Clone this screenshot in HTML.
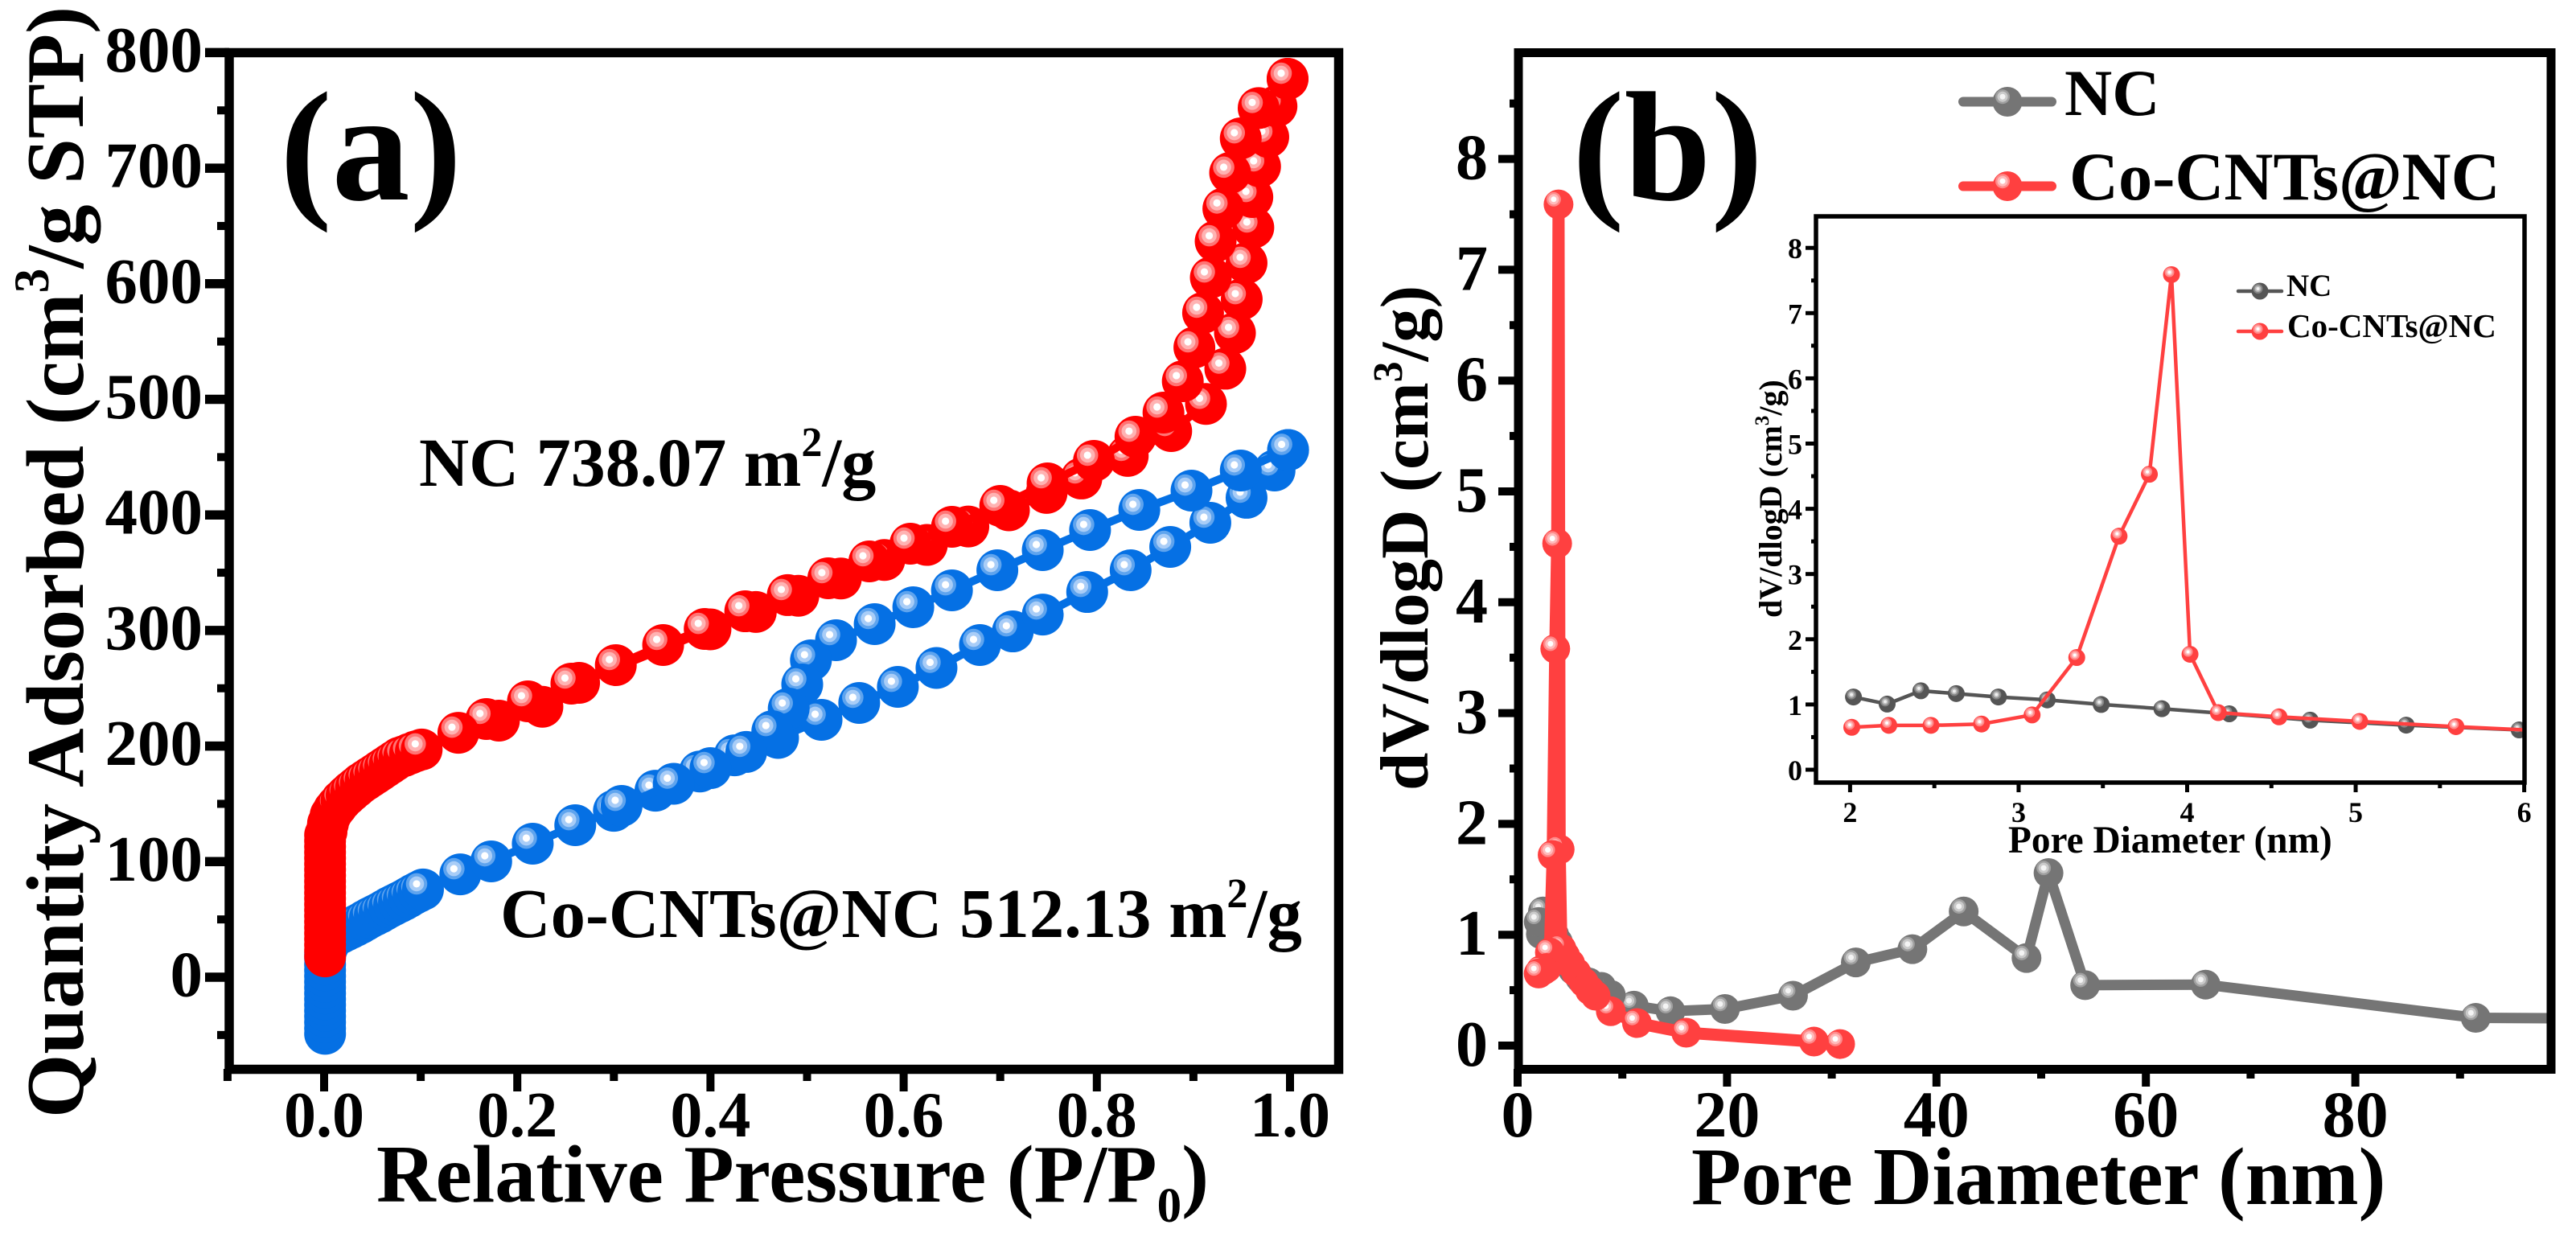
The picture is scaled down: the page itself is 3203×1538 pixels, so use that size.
<!DOCTYPE html>
<html lang="en">
<head>
<meta charset="utf-8">
<title>Isotherm and pore size distribution</title>
<style>
html,body{margin:0;padding:0;background:#fff;}
svg{display:block;}
text{font-family:"Liberation Serif","Times New Roman",serif;font-weight:bold;fill:#000;}
</style>
</head>
<body>
<svg id="fig" xmlns="http://www.w3.org/2000/svg" width="3203" height="1538" viewBox="0 0 3203 1538">
<rect width="3203" height="1538" fill="#fff"/>
<defs>
<clipPath id="clipB"><rect x="1887" y="66" width="1285" height="1263"/></clipPath>
<clipPath id="clipI"><rect x="2258" y="269" width="881" height="704"/></clipPath>
</defs>
<g id="marksA"></g>
<g id="marksB" clip-path="url(#clipB)"></g>
<g id="marksI" clip-path="url(#clipI)"></g>
<g id="axes"></g>

<text x="348" y="248" font-size="194">(a)</text>
<text x="1955" y="248" font-size="194">(b)</text>

<text x="521" y="604" font-size="86">NC 738.07 m<tspan font-size="52" dy="-37">2</tspan><tspan dy="37">/g</tspan></text>
<text x="622" y="1165" font-size="86.7">Co-CNTs@NC 512.13 m<tspan font-size="52" dy="-37">2</tspan><tspan dy="37">/g</tspan></text>

<text transform="translate(103,1390) rotate(-90)" font-size="102">Quantity Adsorbed (cm<tspan font-size="61" dy="-43">3</tspan><tspan dy="43">/g STP)</tspan></text>
<text x="468" y="1494" font-size="102">Relative Pressure (P/P<tspan font-size="61" dy="25">0</tspan><tspan dy="-25">)</tspan></text>

<text transform="translate(1775,983) rotate(-90)" font-size="85">dV/dlogD (cm<tspan font-size="52" dy="-32">3</tspan><tspan dy="32">/g)</tspan></text>
<text x="2103" y="1497" font-size="101.4">Pore Diameter (nm)</text>

<text transform="translate(2215,768) rotate(-90)" font-size="40">dV/dlogD (cm<tspan font-size="25" dy="-16">3</tspan><tspan dy="16">/g)</tspan></text>
<text x="2497" y="1060" font-size="47.3">Pore Diameter (nm)</text>

<g>
<g id="legendB"></g>
<text x="2567" y="143" font-size="82">NC</text>
<text x="2573" y="248" font-size="84.5">Co-CNTs@NC</text>
</g>
<g>
<g id="legendI"></g>
<text x="2843" y="368" font-size="39">NC</text>
<text x="2844" y="419" font-size="41">Co-CNTs@NC</text>
</g>
</svg>
<script>
// Panel (a): isotherm data
const nitrogenAdsRelP = [.001,.001,.001,.001,.001,.001,.001,.001,.001,.001,.001,.001,.001,.001,.001,.001,.001,.001,.001,.001,.001,.001,.0025,.004,.0067,.01,.0133,.018,.0233,.028,.033,.038,.043,.048,.053,.058,.063,.068,.073,.078,.083,.089,.095,.101,.181,.226,.264,.40,.447,.491,.535,.58,.624,.667,.709,.748,.784,.832,.877,.913,.933,.943,.95,.955,.962,.961,.969,.9775,.986,.9975];
const nitrogenAdsQty = [18,23,28,33,38,43,48,53,58,63,68,73,78,83,88,93,98,103,108,113,118,123,126,133,140,144.7,148.2,153,157.3,160.8,164.2,167.7,170.5,173.3,176,178.8,181.6,184.4,187.2,190,191.4,193.5,195.5,197,222,234,254.7,301,316,330,345,361,374,390,404,419,431.5,451,472.5,496,526.5,557.4,586.6,618,648.6,675,701.5,727,753.6,777.3];
const nitrogenDesRelP = [.9675,.949,.938,.931,.923,.918,.91,.901,.889,.869,.84,.797,.749,.70,.65,.607,.5645,.522,.48,.436,.394,.351,.302,.256,.211,.168,.139];
const nitrogenDesQty = [752,725.8,696,665,636.7,605.4,574.8,544.9,515.7,488.5,467.6,446.8,427.3,407.8,389.7,375.1,359.8,345.2,330.6,316.6,301.3,287.4,270,254,238.7,223.4,211.5];
const cobaltAdsRelP = [.001,.001,.001,.001,.001,.001,.001,.001,.001,.001,.001,.001,.001,.001,.001,.0025,.0045,.0075,.0125,.0175,.0225,.0275,.0325,.0375,.0425,.0475,.0525,.0575,.0625,.0675,.0725,.0775,.0825,.0875,.0925,.0975,.1024,.141,.173,.216,.26,.30,.343,.389,.425,.47,.515,.554,.594,.634,.679,.713,.744,.79,.835,.876,.9175,.955,.984,.998];
const cobaltAdsQty = [-49,-44,-39,-34,-29,-24,-19,-14,-9,-4,1,6,11,16,20,24,28,34.1,36.2,38.3,40.4,42.4,44.5,46.6,49.1,51.5,53.6,55.7,58.1,60.5,62.6,64.7,66.8,69.2,71.7,73.8,75.9,89,100.2,115.5,131.5,144,161.4,178,192,207,222.7,237.3,251.2,267.6,287.4,299.2,313.8,333.3,352.1,372.3,393.2,414.8,438.4,456.2];
const cobaltDesRelP = [.949,.898,.844,.793,.744,.697,.65,.61,.57,.53,.504,.495,.481,.464,.437,.4,.362,.308];
const cobaltDesQty = [438.4,421,404.3,386.9,369.5,352.1,334.7,320.1,305.5,291.6,274.2,253.3,232.4,212.9,194.9,180.9,167.4,148.2];

// Panel (b) and inset: pore size distribution data
const ncDiameter = [2.02,2.22,2.42,2.63,2.88,3.17,3.49,3.85,4.25,4.73,5.30,5.97,6.8,8.0,8.9,11.1,14.6,19.8,26.3,32.3,37.7,42.6,48.6,50.7,54.2,65.7,91.5,110];
const ncVolume = [1.115,1.006,1.21,1.167,1.115,1.07,1.0,.935,.857,.76,.683,.61,.57,.53,.457,.36,.31,.33,.45,.75,.87,1.21,.79,1.557,.545,.55,.25,.24];
const cocntDiameter = [2.01,2.23,2.48,2.78,3.08,3.345,3.596,3.776,3.907,4.017,4.185,4.545,5.024,5.595,6.33,6.9,7.45,8.9,11.4,16.1,28.3,30.8];
const cocntVolume = [.65,.68,.68,.70,.84,1.72,3.58,4.53,7.59,1.77,.875,.81,.74,.66,.57,.5,.45,.31,.203,.116,.036,.014];

// Tick labels
const ticksAX = ["0.0","0.2","0.4","0.6","0.8","1.0"];
const ticksAY = ["0","100","200","300","400","500","600","700","800"];
const ticksBX = ["0","20","40","60","80"];
const ticksBY = ["0","1","2","3","4","5","6","7","8"];
const ticksIX = ["2","3","4","5","6"];
const ticksIY = ["0","1","2","3","4","5","6","7","8"];

// Axis functions
function xA(p){return 403+1201*p;}
function yA(v){return 1215-1.437*v;}
function xB(d){return 1887+13.02*d;}
function yB(v){return 1300-137.8*v;}
function xI(d){return 2300.4+209.55*(d-2);}
function yI(v){return 957-81.1*v;}

const NS='http://www.w3.org/2000/svg';
function make(tag,attrs,parent){
  const el=document.createElementNS(NS,tag);
  for(const k in attrs){el.setAttribute(k,attrs[k]);}
  parent.appendChild(el);
  return el;
}

const styleRed={body:'#ff0000',rings:['#ff7474','#ffb3b3','#ffffff']};
const styleBlue={body:'#0570e4',rings:['#5fa4ee','#a9cdf7','#ffffff']};
const styleGray={body:'#757575',rings:['#a0a0a0','#cacaca','#f4f4f4']};
const styleCoral={body:'#ff4040',rings:['#ff8a8a','#ffbcbc','#ffffff']};
const styleDark={body:'#555555',rings:['#858585','#b8b8b8','#f0f0f0']};

function marker(parent,cx,cy,r,st,off,rr,name){
  const g=make('g',{},parent);
  
  
  make('circle',{cx:cx,cy:cy,r:r,fill:st.body},g);
  make('circle',{cx:cx-off[0],cy:cy-off[1],r:rr[0],fill:st.rings[0]},g);
  make('circle',{cx:cx-off[0],cy:cy-off[1],r:rr[1],fill:st.rings[1]},g);
  make('circle',{cx:cx-off[0],cy:cy-off[1],r:rr[2],fill:st.rings[2]},g);
}

function polyline(parent,xs,ys,fx,fy,color,w,name){
  const pts=xs.map(function(x,i){return fx(x).toFixed(1)+','+fy(ys[i]).toFixed(1);}).join(' ');
  const l=make('polyline',{points:pts,fill:'none',stroke:color,'stroke-width':w,'stroke-linejoin':'round'},parent);
  
  
}

function series(parent,xs,ys,fx,fy,st,w,r,off,rr,name,reverse){
  polyline(parent,xs,ys,fx,fy,st.body,w,name+'-line');
  const order=xs.map(function(_,i){return i;});
  if(reverse){order.reverse();}
  order.forEach(function(i){
    marker(parent,fx(xs[i]),fy(ys[i]),r,st,off,rr,name+'-point');
  });
}

const mA=document.getElementById('marksA');
const aR=26, aO=[8,7], aRR=[13.3,9.3,4.6];
series(mA,cobaltAdsRelP,cobaltAdsQty,xA,yA,styleBlue,10,aR,aO,aRR,'co-cnts-adsorption',false);
series(mA,[cobaltAdsRelP[cobaltAdsRelP.length-1]].concat(cobaltDesRelP),[cobaltAdsQty[cobaltAdsQty.length-1]].concat(cobaltDesQty),xA,yA,styleBlue,10,aR,aO,aRR,'co-cnts-desorption',false);
series(mA,nitrogenAdsRelP,nitrogenAdsQty,xA,yA,styleRed,10,aR,aO,aRR,'nc-adsorption',false);
series(mA,[nitrogenAdsRelP[nitrogenAdsRelP.length-1]].concat(nitrogenDesRelP),[nitrogenAdsQty[nitrogenAdsQty.length-1]].concat(nitrogenDesQty),xA,yA,styleRed,10,aR,aO,aRR,'nc-desorption',false);

const mB=document.getElementById('marksB');
const bR=18.5, bO=[6,6.3], bRR=[9,6.5,3.5];
series(mB,ncDiameter,ncVolume,xB,yB,styleGray,13,bR,bO,bRR,'nc-pore',true);
series(mB,cocntDiameter,cocntVolume,xB,yB,styleCoral,15,bR,bO,bRR,'co-cnts-pore',true);

const mI=document.getElementById('marksI');
const iR=10.5, iO=[2.5,3], iRR=[6,4,2];
series(mI,ncDiameter,ncVolume,xI,yI,styleDark,4.5,iR,iO,iRR,'inset-nc',false);
series(mI,cocntDiameter,cocntVolume,xI,yI,styleCoral,4.5,iR,iO,iRR,'inset-co-cnts',false);

// Axes
const ax=document.getElementById('axes');
function frame(x,y,w,h,sw,name){
  const f=make('rect',{x:x,y:y,width:w,height:h,fill:'none',stroke:'#000','stroke-width':sw},ax);
  
  
}
function tickMark(x1,y1,x2,y2,w,name){
  const t=make('line',{x1:x1,y1:y1,x2:x2,y2:y2,stroke:'#000','stroke-width':w},ax);
  
  
}
function label(x,y,txt,size,anchor,name){
  const t=make('text',{x:x,y:y,'font-size':size,'text-anchor':anchor},ax);
  t.textContent=txt;
  
  
}

// Panel a axes
frame(285,65.5,1379.5,1264,11.5,'panel-a-frame');
for(let i=-1;i<=10;i++){
  const x=xA(i/10), major=i>=0&&i%2===0;
  tickMark(x,1329,x,major?1357:1344,10,'panel-a-x-tick');
}
ticksAX.forEach(function(s){label(xA(parseFloat(s)),1413,s,80,'middle','panel-a-x-tick-label');});
for(let i=-1;i<=16;i++){
  const y=yA(i*50), major=i>=0&&i%2===0;
  tickMark(285,y,major?255:270,y,major?11.5:10,'panel-a-y-tick');
}
ticksAY.forEach(function(s){label(252,yA(parseFloat(s))+23.5,s,81,'end','panel-a-y-tick-label');});

// Panel b axes
frame(1888,65.5,1284,1264,11,'panel-b-frame');
for(let i=0;i<=9;i++){
  const x=xB(i*10), major=i%2===0;
  tickMark(x,1329,x,major?1351:1341,10,'panel-b-x-tick');
}
ticksBX.forEach(function(s){label(xB(parseFloat(s)),1413,s,82,'middle','panel-b-x-tick-label');});
for(let i=0;i<=17;i++){
  const y=yB(i/2), major=i%2===0;
  tickMark(1888,y,major?1863:1877,y,10,'panel-b-y-tick');
}
ticksBY.forEach(function(s){label(1850,yB(parseFloat(s))+25,s,80,'end','panel-b-y-tick-label');});

// Inset axes
frame(2258,269,881,704,5.5,'inset-frame');
for(let i=0;i<=8;i++){
  const x=xI(2+i/2), major=i%2===0;
  tickMark(x,973,x,major?985:980,5,'inset-x-tick');
}
ticksIX.forEach(function(s){label(xI(parseFloat(s)),1022,s,36,'middle','inset-x-tick-label');});
for(let i=0;i<=16;i++){
  const y=yI(i/2), major=i%2===0;
  tickMark(2258,y,major?2245:2252,y,5,'inset-y-tick');
}
ticksIY.forEach(function(s){label(2241,yI(parseFloat(s))+13,s,36,'end','inset-y-tick-label');});

// Legends
function legendKey(parent,x1,x2,y,lw,r,st,off,rr,name){
  const l=make('line',{x1:x1,y1:y,x2:x2,y2:y,stroke:st.line||st.body,'stroke-width':lw,'stroke-linecap':'round'},parent);
  
  
  marker(parent,(x1+x2)/2,y,r,st,off,rr,name+'-marker');
}
const lB=document.getElementById('legendB');
legendKey(lB,2441,2551,126.5,12,bR,styleGray,bO,bRR,'legend-key-nc');
legendKey(lB,2441,2551,231.5,12,bR,styleCoral,bO,bRR,'legend-key-co-cnts');
const lI=document.getElementById('legendI');
legendKey(lI,2783,2837,362,4.5,iR,styleDark,iO,iRR,'inset-legend-key-nc');
legendKey(lI,2783,2837,412,4.5,iR,styleCoral,iO,iRR,'inset-legend-key-co-cnts');
</script>
</body>
</html>
